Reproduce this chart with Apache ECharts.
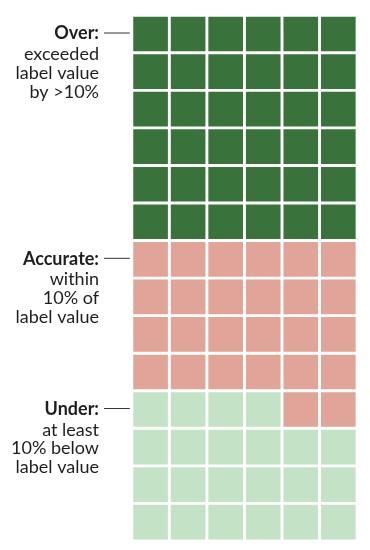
<!DOCTYPE html>
<html><head><meta charset="utf-8">
<script src="https://cdn.jsdelivr.net/npm/echarts@6/dist/echarts.min.js"></script>
<style>html,body{margin:0;padding:0;background:#fff}#c{width:370px;height:550px}</style>
</head><body><div id="c"></div>
<script>
// Data
const categories = ['Over', 'Accurate', 'Under'];
const counts = [36, 26, 22];          // cells per category
const titles = ['Over:', 'Accurate:', 'Under:'];
const notes = [['exceeded', 'label value', 'by >10%'], ['within', '10% of', 'label value'], ['at least', '10% below', 'label value']];
const colors = ['#39723a', '#e0a499', '#c4e2c6'];
const nCols = 6;
const nRows = 14;

// build cells, filling from bottom-left, row by row, starting with last category
const cells = [];
let idx = 0;
const firstRow = [];
for (let c = categories.length - 1; c >= 0; c--) {
  for (let k = 0; k < counts[c]; k++) {
    const row = nRows - 1 - Math.floor(idx / nCols);
    const col = idx % nCols;
    cells.push([col, row, c]);
    idx++;
  }
}
for (let c = 0; c < categories.length; c++) {
  const rows = cells.filter(d => d[2] === c).map(d => d[1]);
  firstRow[c] = Math.min(...rows);
}

const chart = echarts.init(document.getElementById('c'));
const GAP = 2.9;
chart.setOption({
  animation: false,
  grid: { left: 131.8, top: 15.25, width: 225.3, height: 525.7 },
  xAxis: { type: 'category', data: Array.from({length: nCols}, (_, i) => String(i)), show: false },
  yAxis: { type: 'category', inverse: true, data: Array.from({length: nRows}, (_, i) => String(i)), show: false },
  series: [{
    type: 'custom',
    data: cells,
    renderItem: function (params, api) {
      const p = api.coord([api.value(0), api.value(1)]);
      const s = api.size([1, 1]);
      return {
        type: 'rect',
        shape: { x: p[0] - s[0] / 2 + GAP / 2, y: p[1] - s[1] / 2 + GAP / 2, width: s[0] - GAP, height: s[1] - GAP },
        style: { fill: colors[api.value(2)] }
      };
    }
  }]
});

const gx = chart.convertToPixel({ gridIndex: 0 }, [0, 0])[0] - 37.55 / 2;
const graphics = [];
for (let c = 0; c < categories.length; c++) {
  const y = chart.convertToPixel({ yAxisIndex: 0 }, String(firstRow[c]));
  graphics.push({
    type: 'text', x: 99, y: y - 0.5,
    style: { text: titles[c], font: 'bold 18px Lato', fill: '#1e1e1e', align: 'right', verticalAlign: 'middle' }
  });
  graphics.push({
    type: 'line', shape: { x1: 104, y1: y - 1, x2: gx - 2, y2: y - 1 },
    style: { stroke: '#333', lineWidth: 1 }
  });
  graphics.push({
    type: 'text', x: 99, y: y + 11,
    style: { text: notes[c].join('\n'), font: '18px Lato', lineHeight: 18.7, fill: '#1e1e1e', align: 'right', verticalAlign: 'top' }
  });
}
chart.setOption({ graphic: graphics });
</script></body></html>
